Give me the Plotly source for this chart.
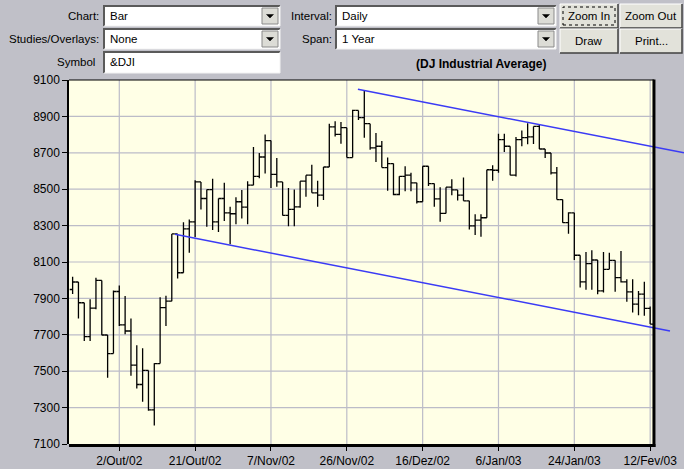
import plotly.graph_objects as go
import pandas as pd

# ---------------- data ----------------
HOLIDAYS = ["2002-11-28", "2002-12-25", "2003-01-01", "2003-01-20"]
dates = [d.strftime("%Y-%m-%d") for d in pd.bdate_range("2002-09-20", "2003-02-12")
         if d.strftime("%Y-%m-%d") not in HOLIDAYS]

open_vals = [7949, 7990, 7876, 7690, 7847, 7999, 7699, 7597, 7938, 7754,
             7721, 7533, 7427, 7504, 7288, 7542, 7849, 7885, 8254, 8041,
             8282, 8321, 8540, 8449, 8498, 8321, 8449, 8370, 8365, 8431,
             8401, 8522, 8571, 8677, 8767, 8582, 8540, 8356, 8389, 8403,
             8544, 8577, 8480, 8467, 8622, 8842, 8801, 8838, 8674, 8933,
             8893, 8860, 8727, 8736, 8619, 8641, 8471, 8571, 8577, 8535,
             8431, 8626, 8531, 8447, 8367, 8511, 8496, 8467, 8436, 8299,
             8330, 8343, 8607, 8604, 8772, 8736, 8577, 8772, 8783, 8787,
             8845, 8721, 8699, 8590, 8443, 8316, 8370, 8137, 7991, 8091,
             8111, 7941, 8060, 8109, 8014, 7991, 7936, 7868, 7923, 7845]

high_vals = [8019, 7990, 7876, 7895, 8013, 7999, 7699, 7944, 7971, 7913,
             7789, 7643, 7626, 7504, 7544, 7906, 7915, 8254, 8254, 8318,
             8334, 8549, 8540, 8498, 8557, 8449, 8535, 8403, 8456, 8495,
             8544, 8732, 8699, 8800, 8767, 8672, 8540, 8507, 8498, 8544,
             8577, 8635, 8546, 8622, 8860, 8874, 8869, 8838, 8937, 8933,
             9042, 8860, 8809, 8765, 8674, 8641, 8571, 8626, 8590, 8535,
             8626, 8626, 8531, 8511, 8511, 8555, 8496, 8564, 8436, 8363,
             8363, 8607, 8632, 8805, 8805, 8736, 8787, 8823, 8863, 8845,
             8854, 8721, 8699, 8622, 8443, 8374, 8370, 8137, 8155, 8164,
             8111, 8155, 8151, 8109, 8160, 8005, 8005, 7941, 7991, 7856]

low_vals = [7924, 7789, 7666, 7666, 7840, 7697, 7464, 7597, 7749, 7703,
            7475, 7405, 7332, 7283, 7201, 7542, 7749, 7885, 8010, 8041,
            8151, 8237, 8389, 8294, 8276, 8265, 8325, 8197, 8308, 8339,
            8307, 8522, 8560, 8586, 8507, 8513, 8356, 8297, 8297, 8398,
            8458, 8480, 8403, 8440, 8622, 8790, 8750, 8674, 8674, 8880,
            8783, 8717, 8650, 8619, 8492, 8467, 8467, 8489, 8489, 8422,
            8431, 8517, 8403, 8321, 8367, 8467, 8438, 8436, 8279, 8248,
            8239, 8343, 8546, 8590, 8705, 8577, 8570, 8736, 8747, 8748,
            8721, 8672, 8581, 8443, 8316, 8255, 8111, 7960, 7947, 7947,
            7923, 7932, 8060, 7936, 7987, 7881, 7823, 7808, 7804, 7759]

close_vals = [7990, 7876, 7690, 7847, 7999, 7699, 7597, 7938, 7754, 7721,
              7533, 7427, 7504, 7288, 7542, 7849, 7885, 8254, 8041, 8282,
              8321, 8540, 8449, 8498, 8321, 8449, 8370, 8365, 8431, 8401,
              8522, 8571, 8677, 8767, 8582, 8540, 8356, 8389, 8403, 8544,
              8577, 8480, 8467, 8622, 8842, 8801, 8838, 8674, 8933, 8893,
              8860, 8727, 8736, 8619, 8641, 8471, 8571, 8577, 8535, 8431,
              8626, 8531, 8447, 8367, 8511, 8496, 8467, 8436, 8299, 8330,
              8343, 8607, 8604, 8772, 8736, 8577, 8772, 8783, 8787, 8845,
              8721, 8699, 8590, 8443, 8316, 8370, 8137, 7991, 8091, 8111,
              7941, 8060, 8109, 8014, 7991, 7936, 7868, 7923, 7845, 7759]

tick_dates = ["2002-10-02", "2002-10-21", "2002-11-07", "2002-11-26",
              "2002-12-16", "2003-01-06", "2003-01-24", "2003-02-12"]
tick_labels = ["2/Out/02", "21/Out/02", "7/Nov/02", "26/Nov/02",
               "16/Dez/02", "6/Jan/03", "24/Jan/03", "12/Fev/03"]
y_ticks = [7100, 7300, 7500, 7700, 7900, 8100, 8300, 8500, 8700, 8900, 9100]

# trend lines (trading-day position, index value)
upper_trend_pos = [48.9, 104.8]
upper_trend_val = [9049, 8700]
lower_trend_pos = [17.55, 102.4]
lower_trend_val = [8252, 7721]

# ---------------- layout constants ----------------
W, H = 684, 469
ML, MR, MT, MB = 69, 0, 80, 25
PW, PH = W - ML - MR, H - MT - MB
X_LO, X_HI = -0.62, 104.8
FRAME_X = 99.65

GRAY = "#c0c0c8"
CREAM = "#ffffe6"
GRID = "#bcbcc8"
FONT = "Liberation Sans, Arial, sans-serif"

idx = list(range(len(dates)))
tick_pos = [dates.index(d) for d in tick_dates]


def PX(px):
    return (px - ML) / PW


def PY(py):
    return (H - MB - py) / PH


def fx(v):
    return (v - X_LO) / (X_HI - X_LO)


fig = go.Figure()
fig.add_trace(go.Ohlc(
    x=idx, open=open_vals, high=high_vals, low=low_vals, close=close_vals,
    increasing=dict(line=dict(color="black", width=1.3)),
    decreasing=dict(line=dict(color="black", width=1.3)),
    tickwidth=0.5, customdata=dates, hoverinfo="skip", showlegend=False))
fig.add_trace(go.Scatter(x=upper_trend_pos, y=upper_trend_val, mode="lines",
                         line=dict(color="#3b3bf5", width=1.5), hoverinfo="skip",
                         showlegend=False))
fig.add_trace(go.Scatter(x=lower_trend_pos, y=lower_trend_val, mode="lines",
                         line=dict(color="#3b3bf5", width=1.5), hoverinfo="skip",
                         showlegend=False))

shapes = []
# cream plotting area
shapes.append(dict(type="rect", xref="x", yref="y", x0=X_LO, x1=FRAME_X,
                   y0=y_ticks[0], y1=y_ticks[-1], fillcolor=CREAM,
                   line=dict(width=0), layer="below"))
# grid
for yv in y_ticks[1:-1]:
    shapes.append(dict(type="line", xref="x", yref="y", x0=X_LO, x1=FRAME_X,
                       y0=yv, y1=yv, line=dict(color=GRID, width=1.2), layer="below"))
for xv in tick_pos:
    shapes.append(dict(type="line", xref="x", yref="y", x0=xv, x1=xv,
                       y0=y_ticks[0], y1=y_ticks[-1], line=dict(color=GRID, width=1.2),
                       layer="below"))
# frame
shapes.append(dict(type="line", xref="paper", yref="paper", x0=0, x1=fx(FRAME_X),
                   y0=1, y1=1, line=dict(color="black", width=1)))
shapes.append(dict(type="line", xref="paper", yref="paper", x0=fx(FRAME_X), x1=fx(FRAME_X),
                   y0=PY(MT - 0.5), y1=PY(H - MB + 3), line=dict(color="black", width=3)))
shapes.append(dict(type="line", xref="paper", yref="paper", x0=0, x1=fx(FRAME_X) + 1.5 / PW,
                   y0=PY(H - MB + 1.5), y1=PY(H - MB + 1.5), line=dict(color="black", width=3)))

annotations = []


def label(text, xr, yc, bold=False, anchor="right", size=11.5):
    annotations.append(dict(text=("<b>%s</b>" % text) if bold else text,
                            xref="paper", yref="paper", x=PX(xr), y=PY(yc),
                            xanchor=anchor, yanchor="middle", showarrow=False,
                            font=dict(family=FONT, size=size, color="black")))


def sunken_box(x0, y0, x1, y1, text, combo=True):
    shapes.append(dict(type="rect", xref="paper", yref="paper", x0=PX(x0), x1=PX(x1),
                       y0=PY(y1), y1=PY(y0), fillcolor="white", line=dict(width=0)))
    shapes.append(dict(type="path", xref="paper", yref="paper",
                       path="M %f,%f L %f,%f L %f,%f" % (PX(x0), PY(y1), PX(x0), PY(y0), PX(x1), PY(y0)),
                       line=dict(color="#5a5a5a", width=2)))
    shapes.append(dict(type="path", xref="paper", yref="paper",
                       path="M %f,%f L %f,%f L %f,%f" % (PX(x0), PY(y1), PX(x1), PY(y1), PX(x1), PY(y0)),
                       line=dict(color="#f4f4f4", width=1)))
    if combo:
        bx0, bx1, by0, by1 = x1 - 18, x1 - 2, y0 + 2, y1 - 2
        shapes.append(dict(type="rect", xref="paper", yref="paper", x0=PX(bx0), x1=PX(bx1),
                           y0=PY(by1), y1=PY(by0), fillcolor="#dcdcd6",
                           line=dict(color="#8a8a8a", width=1)))
        cx, cy = (bx0 + bx1) / 2, (by0 + by1) / 2
        shapes.append(dict(type="path", xref="paper", yref="paper",
                           path="M %f,%f L %f,%f L %f,%f Z" % (PX(cx - 3.5), PY(cy - 1.5), PX(cx + 3.5), PY(cy - 1.5), PX(cx), PY(cy + 2)),
                           fillcolor="black", line=dict(color="black", width=0.5)))
    label(text, x0 + 4, (y0 + y1) / 2, anchor="left")


def button(x0, y0, x1, y1, text, focus=False):
    shapes.append(dict(type="rect", xref="paper", yref="paper", x0=PX(x0), x1=PX(x1),
                       y0=PY(y1), y1=PY(y0), fillcolor="#e2e2da", line=dict(width=0)))
    shapes.append(dict(type="path", xref="paper", yref="paper",
                       path="M %f,%f L %f,%f L %f,%f" % (PX(x0), PY(y1), PX(x0), PY(y0), PX(x1), PY(y0)),
                       line=dict(color="white", width=1)))
    shapes.append(dict(type="path", xref="paper", yref="paper",
                       path="M %f,%f L %f,%f L %f,%f" % (PX(x0), PY(y1), PX(x1), PY(y1), PX(x1), PY(y0)),
                       line=dict(color="#404040", width=1.5)))
    if focus:
        shapes.append(dict(type="rect", xref="paper", yref="paper", x0=PX(x0 + 3), x1=PX(x1 - 3),
                           y0=PY(y1 - 3), y1=PY(y0 + 3), line=dict(color="black", width=1, dash="dot")))
    annotations.append(dict(text=text, xref="paper", yref="paper", x=PX((x0 + x1) / 2),
                            y=PY((y0 + y1) / 2), xanchor="center", yanchor="middle",
                            showarrow=False, font=dict(family=FONT, size=11.5, color="black")))


label("Chart:", 101, 16)
label("Studies/Overlays:", 101, 39)
label("Symbol", 97, 62)
label("Interval:", 334, 16)
label("Span:", 334, 39)
sunken_box(104, 6, 280, 26, "Bar")
sunken_box(104, 29, 280, 49, "None")
sunken_box(104, 52, 280, 73, "&amp;DJI", combo=False)
sunken_box(336, 6, 556, 26, "Daily")
sunken_box(336, 29, 556, 49, "1 Year")
button(560, 4, 618, 28, "Zoom In", focus=True)
button(620, 4, 682, 28, "Zoom Out")
button(560, 29, 618, 53, "Draw")
button(620, 29, 682, 53, "Print...")
label("(DJ Industrial Average)", 481, 64, bold=True, anchor="center", size=12)

fig.update_layout(
    width=W, height=H, margin=dict(l=ML, r=MR, t=MT, b=MB, pad=0),
    paper_bgcolor=GRAY, plot_bgcolor=GRAY, showlegend=False,
    font=dict(family=FONT, size=12, color="black"),
    shapes=shapes, annotations=annotations,
    xaxis=dict(range=[X_LO, X_HI], tickvals=tick_pos, ticktext=tick_labels,
               ticks="outside", ticklen=6, tickcolor="black", tickwidth=1,
               showgrid=False, zeroline=False, showline=False,
               rangeslider=dict(visible=False), fixedrange=True,
               tickfont=dict(family=FONT, size=12, color="black")),
    yaxis=dict(range=[y_ticks[0], y_ticks[-1]], tickvals=y_ticks,
               ticktext=[str(v) for v in y_ticks], ticks="outside", ticklen=5,
               tickcolor="black", tickwidth=1, showgrid=False, zeroline=False,
               showline=True, linecolor="black", linewidth=1.5, fixedrange=True,
               tickfont=dict(family=FONT, size=12, color="black")),
)

fig.write_html("out.html", config={"displayModeBar": False},
               post_script="document.body.style.margin='0';document.body.style.overflow='hidden';")
